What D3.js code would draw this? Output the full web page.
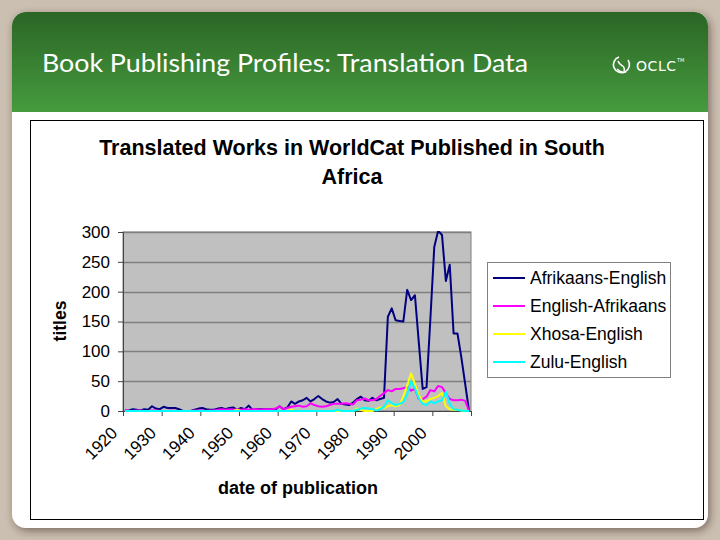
<!DOCTYPE html>
<html><head><meta charset="utf-8">
<script src="https://cdn.jsdelivr.net/npm/d3@7"></script>
<style>body{margin:0;background:#cbbfb1}svg{display:block}</style>
</head><body>
<script>
// ---- data ----
const years = d3.range(1920, 2010);
const seriesNames = ["Afrikaans-English", "English-Afrikaans", "Xhosa-English", "Zulu-English"];
const seriesColors = ["#000080", "#ff00ff", "#ffff00", "#00ffff"];
const afrikaansEnglish = [
  0,1,3,2,1,3,2,8,4,3,
  7,5,5,5,3,0,0,0,2,4,
  5,3,2,2,4,5,3,5,6,2,
  5,3,9,2,3,3,3,3,3,3,
  8,3,6,16,12,16,18,22,16,20,
  25,20,16,14,15,20,12,11,10,14,
  20,24,18,17,22,18,20,22,158,172,
  152,151,150,203,186,194,115,37,40,155,
  275,302,295,218,245,130,130,90,45,0];
const englishAfrikaans = [
  2,0,0,1,1,0,0,1,1,0,
  0,0,1,0,0,0,0,0,1,1,
  1,0,1,1,2,3,2,3,2,3,
  2,3,2,3,3,2,3,3,3,4,
  8,3,5,7,8,9,7,8,13,10,
  8,7,8,10,12,12,12,13,12,11,
  18,19,21,18,18,20,25,30,35,33,
  37,37,38,41,34,37,20,20,24,35,
  33,42,40,30,20,18,18,19,17,0];
const xhosaEnglish = [
  0,0,0,0,0,0,0,0,0,0,
  0,0,0,0,0,0,0,0,0,0,
  0,0,0,0,0,0,0,0,0,2,
  0,0,0,0,0,0,0,0,0,0,
  0,0,0,2,0,0,0,0,0,0,
  0,0,0,0,0,0,0,0,0,0,
  4,2,0,0,0,3,6,5,8,10,
  8,10,24,43,63,45,27,16,16,20,
  22,25,30,8,3,2,2,1,0,0];
const zuluEnglish = [
  0,0,0,0,0,0,0,0,0,0,
  0,0,0,0,0,0,0,0,0,0,
  0,0,0,0,0,0,0,0,0,0,
  0,0,0,0,0,0,0,0,0,0,
  0,0,0,0,0,0,0,0,0,0,
  0,0,0,0,0,2,0,0,0,0,
  2,4,5,4,3,1,3,7,18,13,
  10,12,15,28,50,38,21,12,10,16,
  13,16,18,32,12,3,2,1,0,0];
const seriesValues = [afrikaansEnglish, englishAfrikaans, xhosaEnglish, zuluEnglish];
const yTicks = [0, 50, 100, 150, 200, 250, 300];
const xTickLabels = ["1920","1930","1940","1950","1960","1970","1980","1990","2000"];

// ---- layout ----
const W = 720, H = 540;
const plot = {l: 123, r: 471, t: 232, b: 411};
const svg = d3.select("body").append("svg").attr("width", W).attr("height", H);
const defs = svg.append("defs");
const f = defs.append("filter").attr("id", "sh").attr("x", "-5%").attr("y", "-5%").attr("width", "110%").attr("height", "110%");
f.append("feDropShadow").attr("dx", 2).attr("dy", 3).attr("stdDeviation", 4).attr("flood-color", "#3a2a1a").attr("flood-opacity", 0.55);
const g = defs.append("linearGradient").attr("id", "hdr").attr("x1", 0).attr("y1", 0).attr("x2", 0).attr("y2", 1);
g.append("stop").attr("offset", "0%").attr("stop-color", "#2b6526");
g.append("stop").attr("offset", "100%").attr("stop-color", "#469b3e");
defs.append("clipPath").attr("id", "card").append("rect")
  .attr("x", 12).attr("y", 12).attr("width", 696).attr("height", 516).attr("rx", 14);
defs.append("clipPath").attr("id", "plotclip").append("rect")
  .attr("x", plot.l).attr("y", plot.t - 1).attr("width", plot.r - plot.l).attr("height", plot.b - plot.t + 2);

svg.append("rect").attr("width", W).attr("height", H).attr("fill", "#cbbfb1");
svg.append("rect").attr("x", 12).attr("y", 12).attr("width", 696).attr("height", 516).attr("rx", 14)
  .attr("fill", "#fff").attr("filter", "url(#sh)");
svg.append("rect").attr("x", 12).attr("y", 12).attr("width", 696).attr("height", 100)
  .attr("fill", "url(#hdr)").attr("clip-path", "url(#card)");

svg.append("text").attr("x", 42).attr("y", 72)
  .attr("font-family", "Lato, 'Open Sans', sans-serif").attr("font-size", 25).attr("fill", "#fff")
  .attr("textLength", 486).attr("lengthAdjust", "spacingAndGlyphs")
  .text("Book Publishing Profiles: Translation Data");

// OCLC logo
const logo = svg.append("g").attr("transform", "translate(622,65)").attr("fill", "none").attr("stroke", "#fff").attr("stroke-width", 1.6);
logo.append("path").attr("d", "M-3,-8 A8,8 0 1 0 6,-5");
logo.append("path").attr("d", "M-4,-4 C-2,2 4,0 2,6 M-5,4 C-2,7 1,8 4,7");
svg.append("text").attr("x", 636).attr("y", 71).attr("fill", "#fff")
  .attr("font-family", "'DejaVu Sans', sans-serif").attr("font-size", 14).attr("textLength", 40).text("OCLC");
svg.append("text").attr("x", 677).attr("y", 62).attr("fill", "#fff")
  .attr("font-family", "'DejaVu Sans', sans-serif").attr("font-size", 5).text("TM");

// chart frame
svg.append("rect").attr("x", 30.5).attr("y", 120.5).attr("width", 673).attr("height", 399)
  .attr("fill", "#fff").attr("stroke", "#000").attr("stroke-width", 1);

const font = "'Liberation Sans', Arial, sans-serif";
const title = svg.append("text").attr("font-family", font).attr("font-weight", "bold").attr("font-size", 21.5)
  .attr("text-anchor", "middle").attr("fill", "#000");
title.append("tspan").attr("x", 352).attr("y", 155).text("Translated Works in WorldCat Published in South");
title.append("tspan").attr("x", 352).attr("y", 184).text("Africa");

// scales
const x = d3.scaleLinear().domain([0, years.length]).range([plot.l, plot.r]);
const y = d3.scaleLinear().domain([0, 300]).range([plot.b, plot.t]);

// plot area
svg.append("rect").attr("x", plot.l).attr("y", plot.t).attr("width", plot.r - plot.l).attr("height", plot.b - plot.t)
  .attr("fill", "#c0c0c0").attr("stroke", "#808080");
svg.append("g").selectAll("line").data(yTicks.filter(d => d > 0)).join("line")
  .attr("x1", plot.l).attr("x2", plot.r).attr("y1", d => Math.round(y(d)) + 0.5).attr("y2", d => Math.round(y(d)) + 0.5)
  .attr("stroke", "#808080").attr("stroke-width", 1.5);

// axes
const yAxis = svg.append("g").attr("transform", `translate(${plot.l},0)`)
  .call(d3.axisLeft(y).tickValues(yTicks).tickSize(5).tickPadding(8));
yAxis.selectAll("text").attr("font-family", font).attr("font-size", 17).attr("fill", "#000");
yAxis.selectAll("line,path").attr("stroke", "#444");

const xAxis = svg.append("g").attr("transform", `translate(0,${plot.b})`)
  .call(d3.axisBottom(x).tickValues(d3.range(0, years.length + 1, 10))
    .tickFormat((d, i) => xTickLabels[i] || "").tickSize(5));
xAxis.selectAll("line,path").attr("stroke", "#444");
xAxis.selectAll("text").attr("font-family", font).attr("font-size", 17).attr("fill", "#000")
  .attr("text-anchor", "end").attr("y", 0).attr("dy", 0)
  .attr("transform", "translate(-5,23) rotate(-45)");

// series
const line = d3.line().x((d, i) => x(i + 0.5)).y(d => y(d));
const lines = svg.append("g").attr("clip-path", "url(#plotclip)");
seriesValues.forEach((vals, k) => {
  lines.append("path").datum(vals).attr("d", line).attr("fill", "none")
    .attr("stroke", seriesColors[k]).attr("stroke-width", 2).attr("stroke-linejoin", "round");
});

// axis titles
svg.append("text").attr("transform", "translate(66,321) rotate(-90)").attr("text-anchor", "middle")
  .attr("font-family", font).attr("font-weight", "bold").attr("font-size", 17.5).text("titles");
svg.append("text").attr("x", 298).attr("y", 494).attr("text-anchor", "middle")
  .attr("font-family", font).attr("font-weight", "bold").attr("font-size", 18).text("date of publication");

// legend
const lg = svg.append("g");
lg.append("rect").attr("x", 487.5).attr("y", 262.5).attr("width", 183).attr("height", 115)
  .attr("fill", "#fff").attr("stroke", "#808080");
seriesNames.forEach((n, k) => {
  const cy = 278 + k * 28;
  lg.append("line").attr("x1", 493).attr("x2", 525).attr("y1", cy).attr("y2", cy)
    .attr("stroke", seriesColors[k]).attr("stroke-width", 2);
  lg.append("text").attr("x", 530).attr("y", cy + 6).attr("font-family", font).attr("font-size", 17.5).text(n);
});
</script>
</body></html>
